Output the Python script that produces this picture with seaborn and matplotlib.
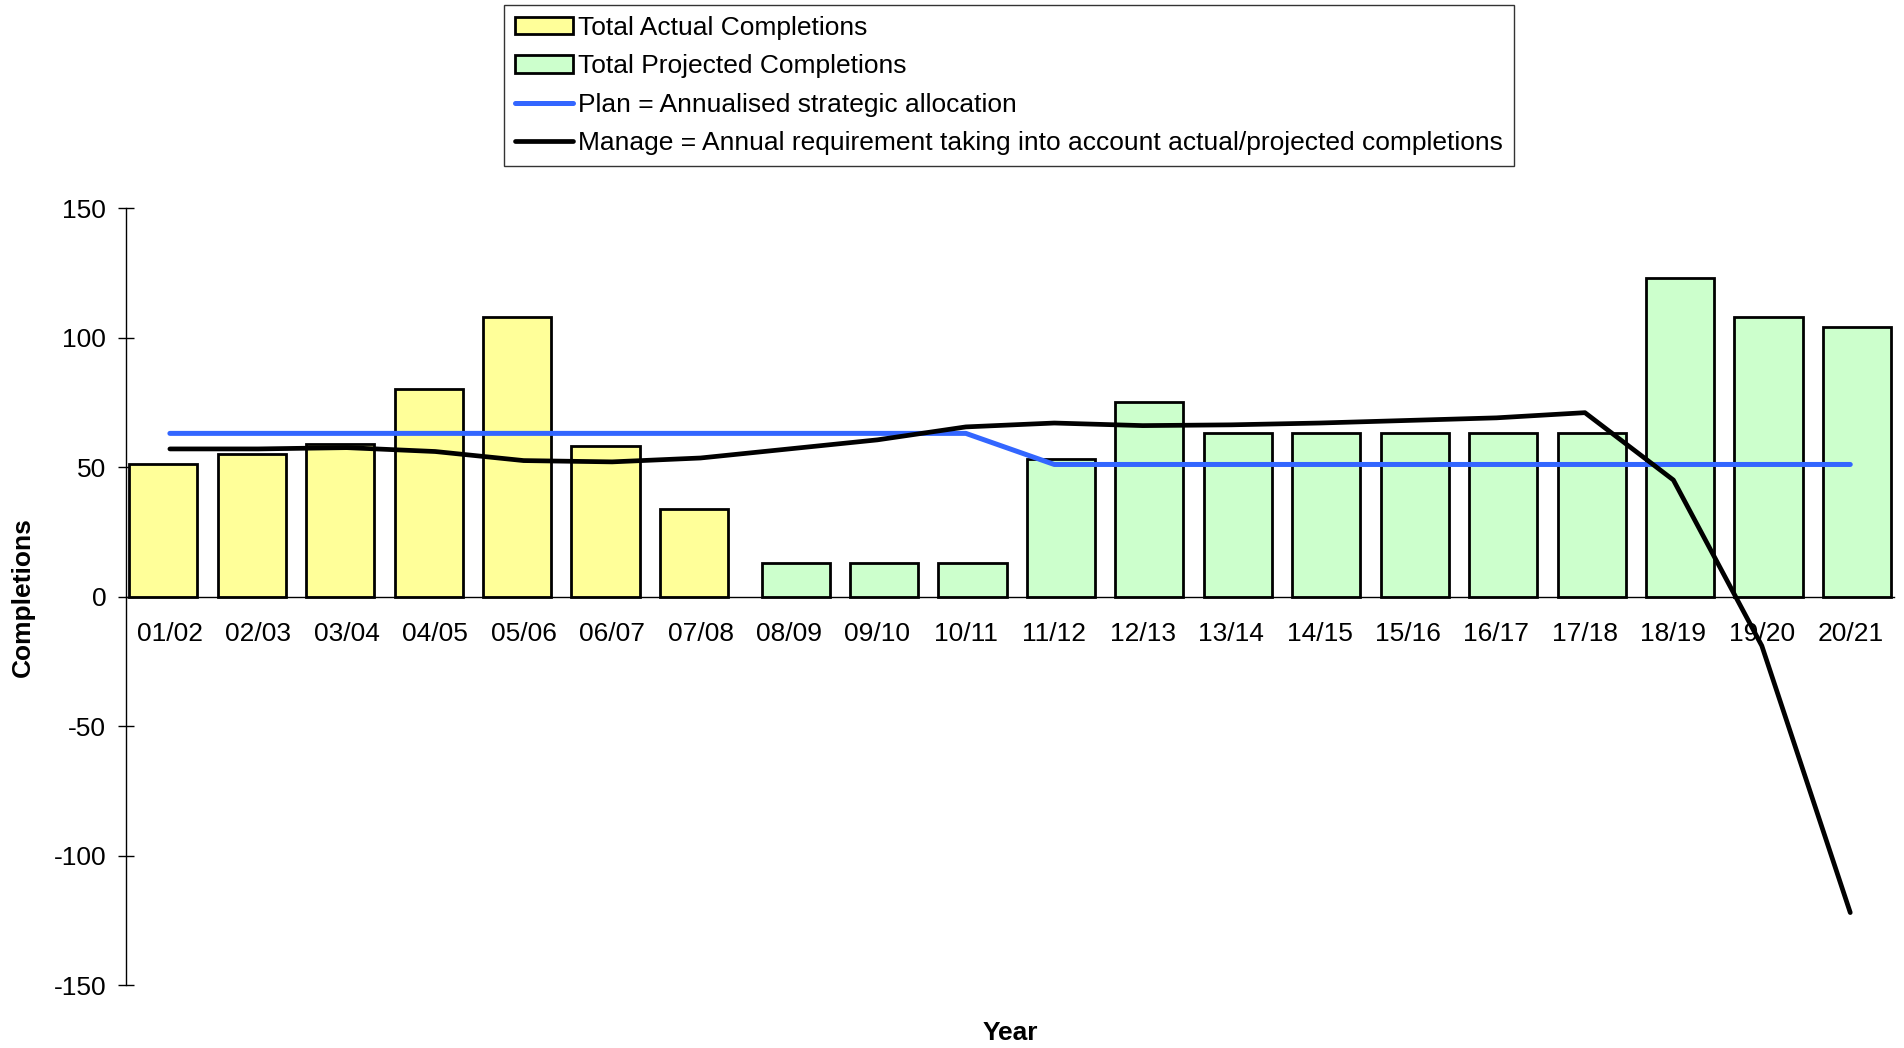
import numpy as np
import pandas as pd
import matplotlib
matplotlib.use("Agg")
import matplotlib.pyplot as plt
import seaborn as sns

years = ["01/02", "02/03", "03/04", "04/05", "05/06", "06/07", "07/08", "08/09", "09/10", "10/11",
         "11/12", "12/13", "13/14", "14/15", "15/16", "16/17", "17/18", "18/19", "19/20", "20/21"]
actual = [51, 55, 59, 80, 108, 58, 34, None, None, None,
          None, None, None, None, None, None, None, None, None, None]
projected = [None, None, None, None, None, None, None, 13, 13, 13,
             53, 75, 63, 63, 63, 63, 63, 123, 108, 104]
plan = [63, 63, 63, 63, 63, 63, 63, 63, 63, 63,
        51, 51, 51, 51, 51, 51, 51, 51, 51, 51]
manage = [57, 57, 57.5, 56, 52.5, 52, 53.5, 57, 60.5, 65.5,
          67, 66, 66.3, 67, 68, 69, 71, 45, -19, -122]

df = pd.DataFrame({"year": years, "actual": actual, "projected": projected,
                   "plan": plan, "manage": manage})

sns.set_style("white")
plt.rcParams["font.family"] = ["Liberation Sans", "DejaVu Sans"]
plt.rcParams["font.size"] = 19
plt.rcParams["axes.unicode_minus"] = False
plt.rcParams["text.color"] = "black"
plt.rcParams["axes.labelcolor"] = "black"
plt.rcParams["xtick.color"] = "black"
plt.rcParams["ytick.color"] = "black"

fig = plt.figure(figsize=(19.04, 10.48), dpi=100)
ax = fig.add_axes([0.066, 0.060, 0.929, 0.7415])

act = df.dropna(subset=["actual"])
proj = df.dropna(subset=["projected"])
sns.barplot(data=act, x="year", y="actual", order=years, color="#FFFF99", saturation=1,
            width=0.77, edgecolor="black", linewidth=2.0, label="Total Actual Completions", ax=ax)
n_act = len(ax.patches)
sns.barplot(data=proj, x="year", y="projected", order=years, color="#CCFFCC", saturation=1,
            width=0.77, edgecolor="black", linewidth=2.0, label="Total Projected Completions", ax=ax)
# excel-style overlap offset of the two series
for i, p in enumerate(ax.patches):
    p.set_x(p.get_x() + (-0.075 if i < n_act else 0.075))

sns.pointplot(data=df, x="year", y="plan", order=years, color="#3366FF", markers="",
              linewidth=3.6, errorbar=None, label="Plan = Annualised strategic allocation", ax=ax)
sns.pointplot(data=df, x="year", y="manage", order=years, color="black", markers="",
              linewidth=3.4, errorbar=None,
              label="Manage = Annual requirement taking into account actual/projected completions", ax=ax)

ax.set_xlim(-0.5, 19.5)
ax.set_ylim(-150, 150)
ax.set_yticks([-150, -100, -50, 0, 50, 100, 150])
ax.grid(False)

for s in ["top", "right"]:
    ax.spines[s].set_visible(False)
ax.spines["bottom"].set_position(("data", 0))
ax.spines["left"].set_color("black")
ax.spines["bottom"].set_color("black")
ax.spines["left"].set_linewidth(1.0)
ax.spines["bottom"].set_linewidth(1.0)

ax.set_xticks(np.arange(len(years)))
ax.set_xticklabels(years)
ax.set_xticks(np.arange(len(years) + 1) - 0.5, minor=True)
ax.tick_params(axis="x", which="major", length=0, pad=18, labelsize=19)
ax.tick_params(axis="x", which="minor", length=7, width=1.0, direction="out", color="black")
ax.tick_params(axis="y", which="major", length=12, width=1.0, direction="inout",
               pad=8, labelsize=19, color="black", left=True)

ax.set_xlabel("Year", fontweight="bold", fontsize=19)
ax.set_ylabel("Completions", fontweight="bold", fontsize=19)
ax.xaxis.set_label_coords(0.5, -0.046)
ax.yaxis.set_label_coords(-0.0515, 0.5)

handles, labels = ax.get_legend_handles_labels()
if ax.get_legend() is not None:
    ax.get_legend().remove()
want = ["Total Actual Completions", "Total Projected Completions",
        "Plan = Annualised strategic allocation",
        "Manage = Annual requirement taking into account actual/projected completions"]
lookup = dict(zip(labels, handles))
leg = fig.legend([lookup[w] for w in want], want, loc="upper center", bbox_to_anchor=(0.53, 0.995),
                 frameon=True, fancybox=False, shadow=False, borderaxespad=0,
                 handlelength=2.2, handleheight=0.65, handletextpad=0.2,
                 labelspacing=0.55, borderpad=0.4, fontsize=19)
leg.get_frame().set_edgecolor("black")
leg.get_frame().set_linewidth(1.0)

fig.savefig("out.png", dpi=100, facecolor="white")
